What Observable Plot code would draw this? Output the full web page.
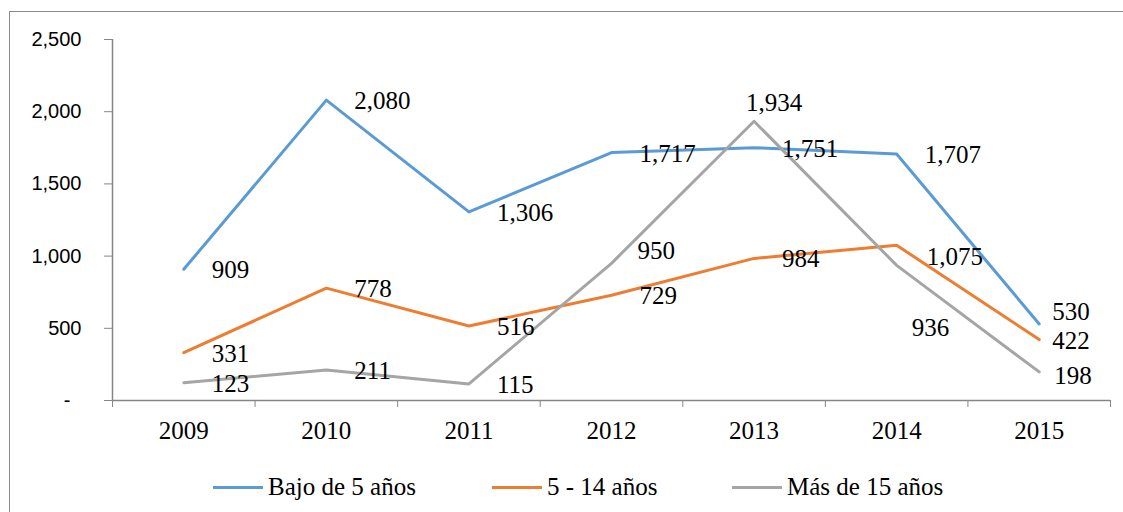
<!DOCTYPE html>
<html><head><meta charset="utf-8">
<script src="https://cdn.jsdelivr.net/npm/d3@7"></script>
<script src="https://cdn.jsdelivr.net/npm/@observablehq/plot@0.6"></script>
<style>
body{margin:0;background:#fff;width:1123px;height:512px;overflow:hidden;position:relative}
#frame{position:absolute;left:9px;top:11px;width:1200px;height:600px;border:1px solid #8a8a8a;box-sizing:border-box}
#chart{position:absolute;left:0;top:0}
#legend{position:absolute;left:0;top:460px;width:1123px;height:54px;font-family:"Liberation Serif","Times New Roman",serif;font-size:25px;color:#000}
.item{position:absolute;top:0;height:54px;display:flex;align-items:center;white-space:nowrap}
.swatch{width:50px;height:3px;margin-right:5px}
</style></head><body>
<div id="frame"></div>
<div id="chart"></div>
<div id="legend"></div>
<script>
// ---- data ----
const years = [2009, 2010, 2011, 2012, 2013, 2014, 2015];
const seriesNames = ["Bajo de 5 años", "5 - 14 años", "Más de 15 años"];
const bajo5 = [909, 2080, 1306, 1717, 1751, 1707, 530];
const de5a14 = [331, 778, 516, 729, 984, 1075, 422];
const mas15 = [123, 211, 115, 950, 1934, 936, 198];
const yTicks = [0, 500, 1000, 1500, 2000, 2500];

// ---- styles ----
const colors = ["#5b9bd5", "#ed7d31", "#a5a5a5"];
const axisColor = "#868686";
const serif = "'Liberation Serif','Times New Roman',serif";
const sans = "'Liberation Sans',Arial,sans-serif";
// label placement tweaks (series index|year) -> offsets in px
const defaultOffset = {dx: 28, dy: 1, anchor: "start"};
const labelOffsets = {
  "0|2015": {dx: 13, dy: -12, anchor: "start"},
  "1|2015": {dx: 13, dy: 1, anchor: "start"},
  "2|2015": {dx: 15, dy: 4, anchor: "start"},
  "2|2012": {dx: 26, dy: -12, anchor: "start"},
  "1|2014": {dx: 30, dy: 12, anchor: "start"},
  "2|2014": {dx: 15, dy: 63, anchor: "start"},
  "2|2013": {dx: 20, dy: -18, anchor: "middle"}
};

const seriesValues = [bajo5, de5a14, mas15];
const rows = [];
seriesValues.forEach((vals, si) => {
  vals.forEach((v, i) => rows.push({series: seriesNames[si], si, year: years[i], value: v}));
});
const bounds = [years[0] - 0.5, ...years.map(y => y + 0.5)];
const fmt = d3.format(",");

const labelMarks = rows.map(r => {
  const o = labelOffsets[r.si + "|" + r.year] || defaultOffset;
  return Plot.text([r], {
    x: "year", y: "value", text: d => fmt(d.value),
    dx: o.dx, dy: o.dy, textAnchor: o.anchor,
    fontSize: 25, fontFamily: serif, fill: "#000"
  });
});

const chart = Plot.plot({
  width: 1123,
  height: 460,
  marginLeft: 112,
  marginRight: 13,
  marginTop: 39,
  marginBottom: 60,
  style: {background: "transparent", overflow: "visible", fontFamily: sans},
  x: {type: "linear", domain: [bounds[0], bounds[bounds.length - 1]], label: null},
  y: {domain: [0, 2500], label: null},
  color: {domain: seriesNames, range: colors},
  marks: [
    Plot.axisY({ticks: yTicks, tickSize: 8, tickPadding: 23, stroke: axisColor, label: null,
      tickFormat: d => d === 0 ? "-\u2007" : fmt(d), fontSize: 20, fontFamily: sans, fill: "#000"}),
    Plot.axisX({ticks: bounds, tickSize: 7, tickFormat: () => "", stroke: axisColor, label: null}),
    Plot.axisX({ticks: years, tickSize: 0, tickPadding: 21, tickFormat: d => String(d), label: null,
      fontSize: 25, fontFamily: serif, fill: "#000"}),
    Plot.ruleX([bounds[0]], {y1: 0, y2: 2500, stroke: axisColor, strokeWidth: 1.5}),
    Plot.ruleY([0], {stroke: axisColor, strokeWidth: 1.5}),
    Plot.line(rows, {x: "year", y: "value", z: "series", stroke: "series", strokeWidth: 3, strokeLinejoin: "round"}),
    ...labelMarks
  ]
});
document.getElementById("chart").appendChild(chart);

// legend
const legendX = [213, 492, 732];
const legend = document.getElementById("legend");
seriesNames.forEach((name, i) => {
  const item = document.createElement("div");
  item.className = "item";
  item.style.left = legendX[i] + "px";
  const sw = document.createElement("span");
  sw.className = "swatch";
  sw.style.background = colors[i];
  const t = document.createElement("span");
  t.textContent = name;
  item.appendChild(sw); item.appendChild(t);
  legend.appendChild(item);
});
</script>
</body></html>
